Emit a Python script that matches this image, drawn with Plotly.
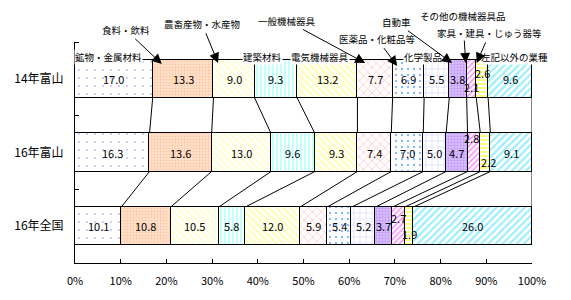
import plotly.graph_objects as go

categories = ["14年富山", "16年富山", "16年全国"]
series = ["鉱物・金属材料", "食料・飲料", "農畜産物・水産物", "建築材料", "電気機械器具",
          "一般機械器具", "医薬品・化粧品等", "化学製品", "自動車", "その他の機械器具品",
          "家具・建具・じゅう器等", "左記以外の業種"]
v14_toyama = [17.0, 13.3, 9.0, 9.3, 13.2, 7.7, 6.9, 5.5, 3.8, 2.1, 2.6, 9.6]
v16_toyama = [16.3, 13.6, 13.0, 9.6, 9.3, 7.4, 7.0, 5.0, 4.7, 2.8, 2.2, 9.1]
v16_zenkoku = [10.1, 10.8, 10.5, 5.8, 12.0, 5.9, 5.4, 5.2, 3.7, 2.7, 1.9, 26.0]
x_ticks = [0, 10, 20, 30, 40, 50, 60, 70, 80, 90, 100]
x_ticktext = ["0%", "10%", "20%", "30%", "40%", "50%", "60%", "70%", "80%", "90%", "100%"]

rows = [v14_toyama, v16_toyama, v16_zenkoku]
ypos = [2, 1, 0]
BW = 0.516
FONT = "Noto Sans CJK JP"

patterns = [
    dict(shape=".", fgcolor="#7b7bff", bgcolor="#ffffff", size=8, solidity=0.05),
    dict(shape=".", fgcolor="#ffa574", bgcolor="#ffe2cc", size=3, solidity=0.3),
    dict(shape="\\", fgcolor="#ffff80", bgcolor="#ffffff", size=5, solidity=0.3),
    dict(shape="|", fgcolor="#66ffff", bgcolor="#ffffff", size=4, solidity=0.4),
    dict(shape="\\", fgcolor="#ffff55", bgcolor="#ffffff", size=5, solidity=0.4),
    dict(shape="x", fgcolor="#ff7070", bgcolor="#ffffff", size=6, solidity=0.2),
    dict(shape=".", fgcolor="#1a6fff", bgcolor="#ffffff", size=6, solidity=0.12),
    dict(shape="+", fgcolor="#9c9cff", bgcolor="#ffffff", size=6, solidity=0.15),
    dict(shape=".", fgcolor="#a070e0", bgcolor="#d8bcff", size=3, solidity=0.35),
    dict(shape="/", fgcolor="#ff00ff", bgcolor="#ffffff", size=4, solidity=0.35),
    dict(shape="-", fgcolor="#ffff00", bgcolor="#ffffff", size=4, solidity=0.5),
    dict(shape="/", fgcolor="#22ddff", bgcolor="#ffffff", size=5, solidity=0.4),
]

fig = go.Figure()
for i, name in enumerate(series):
    fig.add_trace(go.Bar(
        orientation="h", name=name,
        x=[r[i] for r in rows], y=ypos, width=BW,
        marker=dict(pattern=patterns[i], line=dict(color="black", width=1)),
        hoverinfo="skip", showlegend=False,
    ))

# cumulative boundaries
cums = []
for r in rows:
    c, acc = [], 0.0
    for v in r:
        acc += v
        c.append(acc)
    cums.append(c)

# series lines between bars
shapes = []
for j in range(2):
    for k in range(12):
        shapes.append(dict(type="line", xref="x", yref="y",
                           x0=cums[j][k], y0=ypos[j] - BW / 2,
                           x1=cums[j + 1][k], y1=ypos[j + 1] + BW / 2,
                           line=dict(color="black", width=1), layer="below"))

annotations = []
# value labels
shifts = {(0, 9): (0, -8), (0, 10): (0, 6),
          (1, 9): (-2, 15), (1, 10): (3, -9),
          (2, 9): (0, 8), (2, 10): (1, -8)}
for j, r in enumerate(rows):
    for k, v in enumerate(r):
        xs, ys = shifts.get((j, k), (0, 0))
        annotations.append(dict(x=cums[j][k] - v / 2, y=ypos[j], xref="x", yref="y",
                                text=f"{v:.1f}", showarrow=False, xshift=xs, yshift=ys,
                                font=dict(size=11, family=FONT, color="black")))

# series name labels (no arrows) just above top bar
ylab = 2.296
plain = [(0, 7.4), (3, 41.1), (4, 53.6), (7, 76.1), (11, 96.1)]
for k, xp in plain:
    annotations.append(dict(x=xp, y=ylab, xref="x", yref="y", text=series[k],
                            showarrow=False, bgcolor="white", borderpad=0,
                            font=dict(size=9.5, family=FONT, color="black")))

# series name labels with arrows
c0 = cums[0]
arrows = [
    (1, c0[0] + 2.0, 64, -36, -34),
    (2, c0[1] + 1.0, 63, -16, -39),
    (5, c0[4] + 1.7, 63, -78, -42),
    (6, c0[5] + 1.0, 66, -20, -27),
    (8, c0[7] + 0.6, 63, -56, -41),
    (9, c0[8] - 0.2, 63, -3, -47),
    (10, c0[9] + 0.1, 63, 13, -30),
]
for k, xt, py, ax, ay in arrows:
    yt = 2.5 - (py - 42) / 73.67
    annotations.append(dict(x=xt, y=yt, xref="x", yref="y", text=series[k],
                            showarrow=True, ax=ax, ay=ay, arrowhead=2, arrowsize=2,
                            arrowwidth=1, arrowcolor="black", standoff=0, startstandoff=2,
                            bgcolor="white", borderpad=0,
                            font=dict(size=9.5, family=FONT, color="black")))

fig.update_layout(
    barmode="stack", width=571, height=300,
    margin=dict(l=75, r=39, t=42, b=37),
    paper_bgcolor="white", plot_bgcolor="white",
    font=dict(family=FONT, color="black", size=11),
    shapes=shapes, annotations=annotations, bargap=0,
    xaxis=dict(range=[0, 100], tickvals=x_ticks, ticktext=x_ticktext, ticks="inside",
               ticklen=4, tickcolor="black", showline=True, linecolor="black", linewidth=1,
               showgrid=False, zeroline=False, ticklabelstandoff=8,
               tickfont=dict(size=11, family=FONT)),
    yaxis=dict(range=[-0.5, 2.5], tickvals=ypos, ticktext=categories, ticks="",
               showline=True, linecolor="black", linewidth=1, showgrid=False, zeroline=False,
               minor=dict(tickvals=[-0.5, 0.5, 1.5, 2.5], ticks="inside", ticklen=4,
                          tickcolor="black", showgrid=False),
               ticklabelstandoff=8, tickfont=dict(size=12, family=FONT)),
)

fig.write_html("out.html")
